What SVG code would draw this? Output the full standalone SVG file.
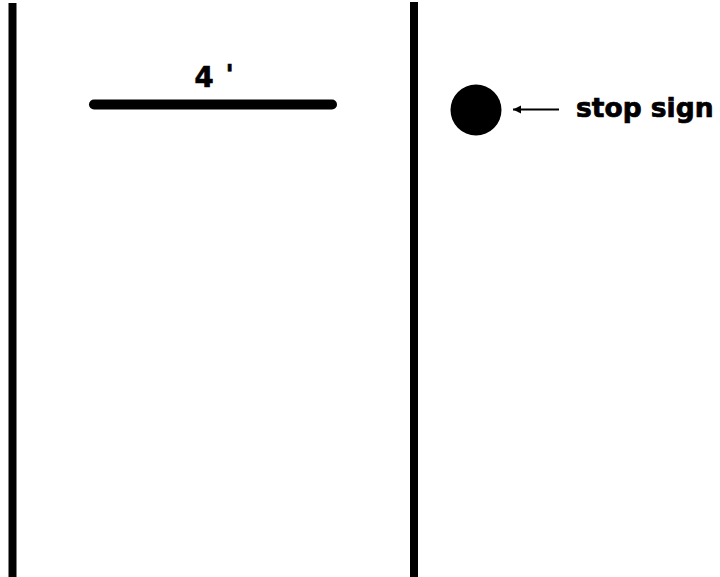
<svg xmlns="http://www.w3.org/2000/svg" width="720" height="577" viewBox="0 0 720 577">
<style>
.wall{stroke:#000;stroke-width:8;fill:none}
.lbl{font-family:"DejaVu Sans",Verdana,sans-serif;font-weight:bold;fill:#000;stroke:#000;stroke-width:0.7}
</style>
<defs>
<marker id="ah" markerWidth="10" markerHeight="10" refX="1" refY="5" orient="auto" markerUnits="userSpaceOnUse">
<path d="M9,1 L1,5 L9,9 Z" fill="#000"/>
</marker>
</defs>
<rect width="720" height="577" fill="#fff"/>
<g id="left-wall"><line class="wall" x1="12.5" y1="3" x2="12.5" y2="577"/></g>
<g id="right-wall"><line class="wall" x1="414" y1="2" x2="414" y2="577"/></g>
<g id="width-bar">
<line x1="94" y1="104.5" x2="332" y2="104.5" stroke="#000" stroke-width="10" stroke-linecap="round"/>
<text class="lbl" x="194.5" y="87" font-size="27.5">4 <tspan x="225.5" dy="-3.5" font-size="27">'</tspan></text>
</g>
<g id="stop-sign"><circle cx="476" cy="110" r="25.5" fill="#000"/></g>
<g id="connectors">
<line x1="513" y1="109.5" x2="559" y2="109.5" stroke="#000" stroke-width="2" marker-start="url(#ah)"/>
</g>
<g id="stop-label"><text class="lbl" x="576" y="117" font-size="26.5">stop sign</text></g>
</svg>
